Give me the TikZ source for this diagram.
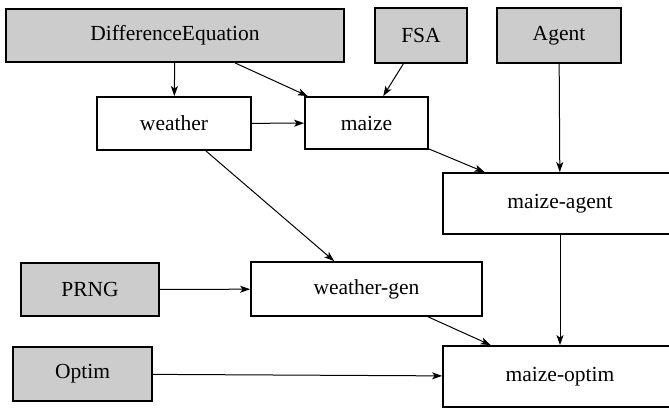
\documentclass[tikz,border=0pt]{standalone}
\usepackage{fontspec}
\setmainfont{Liberation Serif}
\usepackage{tikz}
\usetikzlibrary{arrows.meta}

\begin{document}
\begin{tikzpicture}[x=1pt,y=-1pt,
    box/.style={draw,line width=1.8pt,inner sep=0pt,minimum height=53,
      font=\fontsize{21.5}{25}\selectfont},
    lib/.style={box,fill=black!20},
    dep/.style={-{Stealth[length=10pt,width=7pt,inset=2.5pt]},line width=1pt}]
  \useasboundingbox (0,0) rectangle (669,409);
  % libraries
  \node[lib,minimum width=338] (diffeq) at (175,35.5) {DifferenceEquation};
  \node[lib,minimum width=92,minimum height=55] (fsa) at (421,35.5) {FSA};
  \node[lib,minimum width=124,minimum height=55] (agent) at (559,35.5) {Agent};
  \node[lib,minimum width=138] (prng) at (90,289.5) {PRNG};
  \node[lib,minimum width=139,minimum height=54] (optim) at (82.5,374) {Optim};
  % packages
  \node[box,minimum width=154] (weather) at (174,123.5) {weather};
  \node[box,minimum width=123,minimum height=52] (maize) at (366.5,123) {maize};
  \node[box,minimum width=234,minimum height=61] (maizeagent) at (560,203.5) {maize-agent};
  \node[box,minimum width=231,minimum height=54] (weathergen) at (366.5,289) {weather-gen};
  \node[box,minimum width=234,minimum height=61] (maizeoptim) at (560,376.5) {maize-optim};
  % dependencies
  \draw[dep] (diffeq) -- (weather);
  \draw[dep] (diffeq) -- (maize);
  \draw[dep] (fsa) -- (maize);
  \draw[dep] (weather) -- (maize);
  \draw[dep] (maize) -- (maizeagent);
  \draw[dep] (agent) -- (maizeagent);
  \draw[dep] (weather) -- (weathergen);
  \draw[dep] (prng) -- (weathergen);
  \draw[dep] (weathergen) -- (maizeoptim);
  \draw[dep] (maizeagent) -- (maizeoptim);
  \draw[dep] (optim) -- (maizeoptim);
\end{tikzpicture}
\end{document}
